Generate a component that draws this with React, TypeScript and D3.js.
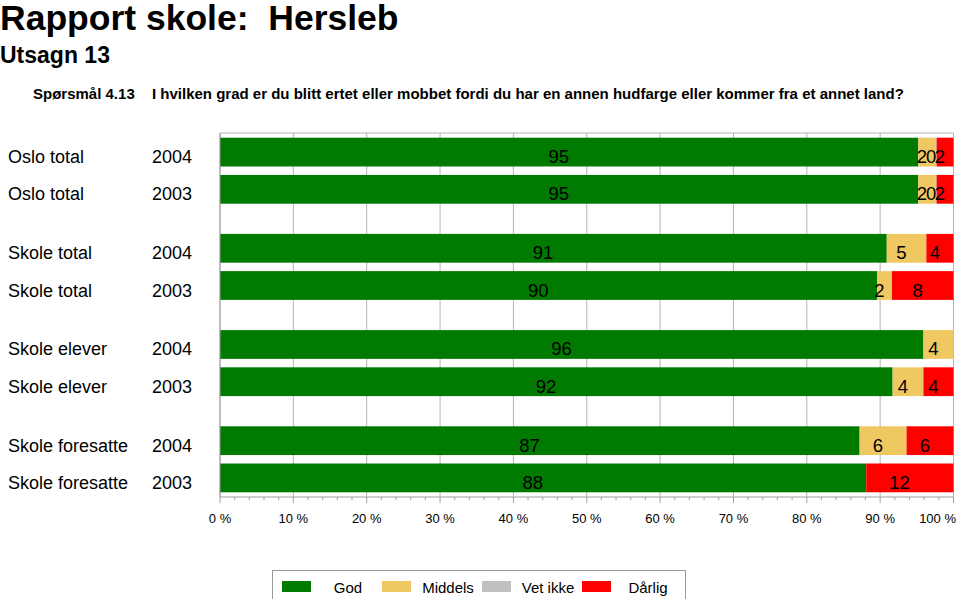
import React from "react";
import * as d3 from "d3";

const groups = ["Oslo total", "Skole total", "Skole elever", "Skole foresatte"];
const years = ["2004", "2003"];
const categories = ["God", "Middels", "Vet ikke", "Dårlig"];
const colors = ["#007a00", "#f0c862", "#c0c0c0", "#ff0000"];

// values per row (group, year): God, Middels, Vet ikke, Dårlig
const god = [95.2, 95.2, 90.9, 89.6, 95.9, 91.7, 87.2, 88.1];
const middels = [2.4, 2.4, 5.4, 2.0, 4.1, 4.2, 6.4, 0];
const vetIkke = [0.1, 0.1, 0, 0, 0, 0, 0, 0];
const darlig = [2.3, 2.3, 3.7, 8.4, 0, 4.1, 6.4, 11.9];

const xTicks = [0, 10, 20, 30, 40, 50, 60, 70, 80, 90, 100];

const W = 960;
const H = 599;
const FONT = "Liberation Sans, Arial, Helvetica, sans-serif";

export default function App() {
  const x = d3.scaleLinear().domain([0, 100]).range([220, 953.5]);
  const plotTop = 133;
  const plotBottom = 497;
  const gScale = d3
    .scaleBand<string>()
    .domain(groups)
    .range([plotTop, plotBottom])
    .paddingInner(0.314)
    .paddingOuter(0.049);
  const yScale = d3
    .scaleBand<string>()
    .domain(years)
    .range([0, gScale.bandwidth()])
    .paddingInner(0.227)
    .paddingOuter(0);

  const rows = groups.flatMap((g, gi) =>
    years.map((yr, yi) => {
      const idx = gi * 2 + yi;
      const vals = [god[idx], middels[idx], vetIkke[idx], darlig[idx]];
      return { group: g, year: yr, vals, y: (gScale(g) as number) + (yScale(yr) as number) };
    })
  );
  const bh = yScale.bandwidth();
  const minorTicks = d3.range(0, 101, 2);

  const legendText = d3.scaleLinear().domain([0, 3]).range([348, 648]);

  return (
    <div style={{ position: "absolute", left: 0, top: 0 }}>
      <svg width={W} height={H} style={{ display: "block", fontFamily: FONT }}>
        <rect width={W} height={H} fill="#fff" />
        <text x={0} y={30} fontSize={35.5} fontWeight="bold" style={{ whiteSpace: "pre" }}>
          {"Rapport skole:  Hersleb"}
        </text>
        <text x={0} y={63} fontSize={23} fontWeight="bold">Utsagn 13</text>
        <text x={33} y={99} fontSize={15} fontWeight="bold">Spørsmål 4.13</text>
        <text x={152} y={99} fontSize={15} fontWeight="bold">
          I hvilken grad er du blitt ertet eller mobbet fordi du har en annen hudfarge eller kommer fra et annet land?
        </text>

        {/* gridlines */}
        {xTicks.map((t) => (
          <line key={"g" + t} x1={x(t)} x2={x(t)} y1={plotTop} y2={plotBottom} stroke="#b4b4b4" strokeWidth={1} />
        ))}
        <line x1={x(0)} x2={x(100)} y1={plotTop} y2={plotTop} stroke="#b4b4b4" strokeWidth={1} />

        {/* bars */}
        {rows.map((r, ri) => {
          const starts = d3.cumsum([0, ...r.vals]);
          return (
            <g key={"r" + ri}>
              {r.vals.map((v, ci) =>
                v > 0 ? (
                  <rect
                    key={ci}
                    x={x(starts[ci])}
                    y={r.y}
                    width={x(starts[ci] + v) - x(starts[ci])}
                    height={bh}
                    fill={colors[ci]}
                  />
                ) : null
              )}
              {r.vals.map((v, ci) =>
                v > 0 ? (
                  <text
                    key={"t" + ci}
                    x={x(starts[ci] + v / 2)}
                    y={r.y + bh / 2 + 11}
                    fontSize={18.5}
                    textAnchor="end"
                    fill="#000"
                  >
                    {Math.round(v)}
                  </text>
                ) : null
              )}
              <text x={8} y={r.y + bh / 2 + 11} fontSize={18}>{r.group}</text>
              <text x={152} y={r.y + bh / 2 + 11} fontSize={18}>{r.year}</text>
            </g>
          );
        })}

        {/* axes */}
        <line x1={x(0)} x2={x(0)} y1={plotTop} y2={plotBottom} stroke="#a0a0a0" strokeWidth={1} />
        <line x1={x(0)} x2={x(100)} y1={plotBottom} y2={plotBottom} stroke="#a0a0a0" strokeWidth={1} />
        {minorTicks.map((t) => (
          <line
            key={"m" + t}
            x1={x(t)}
            x2={x(t)}
            y1={plotBottom}
            y2={plotBottom + (t % 10 === 0 ? 6 : 3)}
            stroke="#a0a0a0"
            strokeWidth={1}
          />
        ))}
        {xTicks.map((t, i) => {
          const last = i === xTicks.length - 1;
          return (
            <text
              key={"l" + t}
              x={last ? 956 : x(t)}
              y={523}
              fontSize={13}
              textAnchor={last ? "end" : "middle"}
            >
              {t + " %"}
            </text>
          );
        })}

        {/* legend */}
        <rect x={272.5} y={570.5} width={413} height={40} fill="#fff" stroke="#999" strokeWidth={1} />
        {categories.map((c, i) => (
          <g key={"lg" + i}>
            <rect x={legendText(i) - 66} y={581} width={29} height={11} fill={colors[i]} />
            <text x={legendText(i)} y={593} fontSize={15} textAnchor="middle">{c}</text>
          </g>
        ))}
      </svg>
    </div>
  );
}
